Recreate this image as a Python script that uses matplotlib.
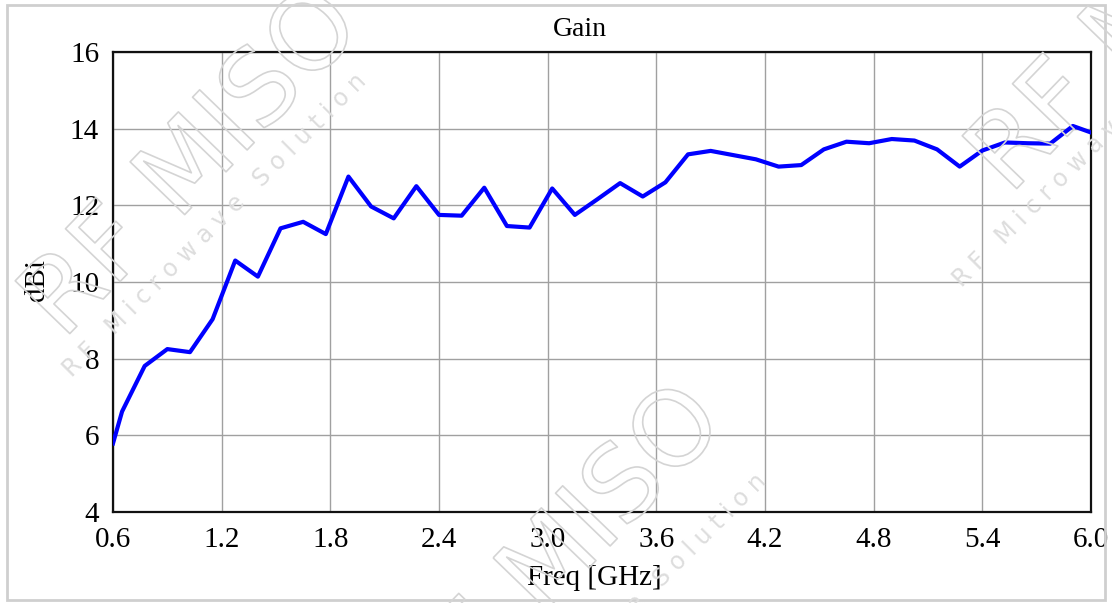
import matplotlib.pyplot as plt
import matplotlib.patheffects as pe
from matplotlib.patches import Rectangle

# Данные кривой усиления
freq = [0.6, 0.65, 0.775, 0.9, 1.025, 1.15, 1.275, 1.4, 1.525, 1.65, 1.775,
        1.9, 2.025, 2.15, 2.275, 2.4, 2.525, 2.65, 2.775, 2.9, 3.025, 3.15,
        3.275, 3.4, 3.525, 3.65, 3.775, 3.9, 4.025, 4.15, 4.275, 4.4, 4.525,
        4.65, 4.775, 4.9, 5.025, 5.15, 5.275, 5.4, 5.525, 5.65, 5.775, 5.9, 6.0]
gain = [5.79, 6.62, 7.81, 8.25, 8.17, 9.03, 10.56, 10.14, 11.40, 11.57, 11.25,
        12.75, 11.97, 11.66, 12.50, 11.75, 11.73, 12.46, 11.46, 11.42, 12.44, 11.75,
        12.16, 12.58, 12.23, 12.60, 13.33, 13.42, 13.31, 13.20, 13.01, 13.05, 13.46,
        13.66, 13.62, 13.73, 13.69, 13.46, 13.01, 13.43, 13.64, 13.62, 13.61, 14.07, 13.90]

x_ticks = [0.6, 1.2, 1.8, 2.4, 3.0, 3.6, 4.2, 4.8, 5.4, 6.0]
x_labels = ["0.6", "1.2", "1.8", "2.4", "3.0", "3.6", "4.2", "4.8", "5.4", "6.0"]
y_ticks = [4, 6, 8, 10, 12, 14, 16]

W, H = 1112, 603
serif = ["Liberation Serif", "DejaVu Serif"]

fig = plt.figure(figsize=(W / 100, H / 100), dpi=100)
ax = fig.add_axes([113 / W, 1 - 512 / H, (1091 - 113) / W, (512 - 52) / H])

ax.plot(freq, gain, color="#0000ff", linewidth=3.0, zorder=3)

ax.set_xlim(0.6, 6.0)
ax.set_ylim(4, 16)
ax.set_xticks(x_ticks)
ax.set_xticklabels(x_labels)
ax.set_yticks(y_ticks)
ax.grid(True, color="#a0a0a0", linewidth=1.0)
ax.tick_params(length=0, labelsize=21)
ax.tick_params(axis="y", pad=10)
ax.tick_params(axis="x", pad=11)
for lab in ax.get_xticklabels() + ax.get_yticklabels():
    lab.set_family(serif)
for s in ax.spines.values():
    s.set_linewidth(1.6)
    s.set_color("#111111")

fig.text(580 / W, 1 - 30 / H, "Gain", ha="center", va="center", fontsize=20, family=serif)
fig.text(594 / W, 1 - 578 / H, "Freq [GHz]", ha="center", va="center", fontsize=21, family=serif)
fig.text(37 / W, 1 - 280 / H, "dBi", ha="center", va="center", fontsize=21, family=serif, rotation=90)

# Рамка вокруг картинки
fig.patches.append(Rectangle((7 / W, 3 / H), 1098 / W, 595 / H, transform=fig.transFigure,
                             fill=False, edgecolor="#cfcfcf", linewidth=2))

# Водяные знаки (контурный текст)
wm = [pe.Stroke(linewidth=1.2, foreground="#d4d4d4")]
for cx, cy in [(193, 165), (556, 561), (1140, 20)]:
    fig.text(cx / W, 1 - cy / H, "RF MISO", ha="center", va="center", fontsize=75,
             rotation=46, color="none", path_effects=wm, family="DejaVu Sans")
for cx, cy in [(215, 225), (615, 625), (1105, 135)]:
    fig.text(cx / W, 1 - cy / H, "R F   M i c r o w a v e   S o l u t i o n",
             ha="center", va="center", fontsize=17, rotation=45, color="#dddddd",
             family="DejaVu Sans")

fig.savefig("out.png", dpi=100)
